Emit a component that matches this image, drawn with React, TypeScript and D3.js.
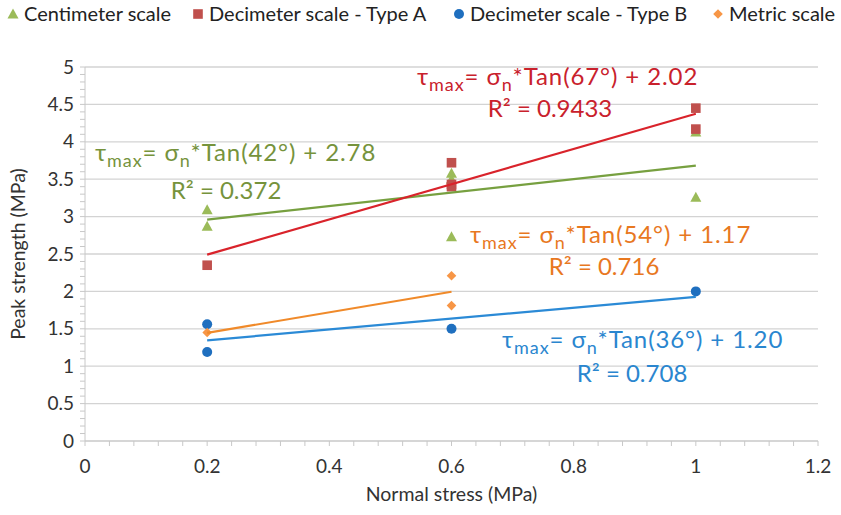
import React from 'react';
import * as d3 from 'd3';

// chart data
const seriesNames = ['Centimeter scale', 'Decimeter scale - Type A', 'Decimeter scale - Type B', 'Metric scale'];
const centimeterPts = [[0.2, 3.09], [0.2, 2.87], [0.6, 3.58], [0.6, 3.5], [0.6, 2.73], [1, 4.13], [1, 3.26]];
const typeAPts = [[0.2, 2.35], [0.6, 3.72], [0.6, 3.43], [0.6, 3.4], [1, 4.45], [1, 4.17]];
const typeBPts = [[0.2, 1.56], [0.2, 1.19], [0.6, 1.5], [1, 2.0]];
const metricPts = [[0.2, 1.45], [0.6, 2.21], [0.6, 1.81]];
// trend lines: angle (deg), intercept, x-range, R²
const trendAngles = [42, 67, 36, 54];
const trendIntercepts = [2.78, 2.02, 1.2, 1.17];
const trendRanges = [[0.2, 1], [0.2, 1], [0.2, 1], [0.2, 0.6]];
const trendR2 = ['0.372', '0.9433', '0.708', '0.716'];
const xTicks = [0, 0.2, 0.4, 0.6, 0.8, 1, 1.2];
const yTicks = [0, 0.5, 1, 1.5, 2, 2.5, 3, 3.5, 4, 4.5, 5];

const markerColors = ['#9bbb59', '#c0504d', '#1f6fbf', '#f79646'];
const lineColors = ['#77a040', '#d9232b', '#2b8ad6', '#f08a2a'];
const textColors = ['#76933c', '#c9212c', '#2a86cf', '#e8781f'];

const font = 'Lato, "Open Sans", sans-serif';

const W = 841, H = 515;
const margin = { left: 85, right: 23, top: 67, bottom: 74 };

const x = d3.scaleLinear().domain([0, 1.2]).range([margin.left, W - margin.right]);
const y = d3.scaleLinear().domain([0, 5]).range([H - margin.bottom, margin.top]);

const Marker = ({ kind, cx, cy, color }: { kind: number; cx: number; cy: number; color: string }) => {
  if (kind === 0) {
    return <path d={`M${cx},${cy - 5.5}L${cx + 5.5},${cy + 4.5}L${cx - 5.5},${cy + 4.5}Z`} fill={color} />;
  }
  if (kind === 1) return <rect x={cx - 4.8} y={cy - 4.8} width={9.6} height={9.6} fill={color} />;
  if (kind === 2) return <circle cx={cx} cy={cy} r={5} fill={color} />;
  return <path d={`M${cx},${cy - 4.8}L${cx + 4.8},${cy}L${cx},${cy + 4.8}L${cx - 4.8},${cy}Z`} fill={color} />;
};

// equation label with subscripts
const Equation = ({ i, ex, ey, rx, ry }: { i: number; ex: number; ey: number; rx: number; ry: number }) => (
  <g fill={textColors[i]} fontFamily={font} fontSize={24}>
    <text x={ex} y={ey} letterSpacing={0.9}>
      τ<tspan fontSize={18} dy={6}>max</tspan>
      <tspan dy={-6}>= σ</tspan>
      <tspan fontSize={18} dy={6}>n</tspan>
      <tspan dy={-6}>{`*Tan(${trendAngles[i]}°) + ${trendIntercepts[i].toFixed(2)}`}</tspan>
    </text>
    <text x={rx} y={ry} textAnchor="middle">
      R² = {trendR2[i]}
    </text>
  </g>
);

export default function App() {
  const allPts = [centimeterPts, typeAPts, typeBPts, metricPts];
  const xMinor = d3.range(0, 1.2001, 0.04);
  const yMinor = d3.range(0, 5.0001, 0.1);
  const legendX = [13, 198, 459, 718];

  return (
    <svg width={W} height={H} style={{ display: 'block', position: 'absolute', left: 0, top: 0 }}>
      <rect width={W} height={H} fill="#fff" />

      {/* legend */}
      {seriesNames.map((name, i) => (
        <g key={name}>
          <Marker kind={i} cx={legendX[i]} cy={14} color={markerColors[i]} />
          <text x={legendX[i] + 11} y={21} fontFamily={font} fontSize={20} fill="#222">
            {name}
          </text>
        </g>
      ))}

      {/* gridlines */}
      {yTicks.filter(t => t > 0).map(t => (
        <line key={t} x1={x(0)} x2={x(1.2)} y1={y(t)} y2={y(t)} stroke="#d3d3d3" strokeWidth={1.3} />
      ))}

      {/* axes */}
      <line x1={x(0)} x2={x(0)} y1={y(0)} y2={y(5)} stroke="#c8c8c8" />
      <line x1={x(0)} x2={x(1.2)} y1={y(0)} y2={y(0)} stroke="#c8c8c8" strokeWidth={1.3} />
      {yMinor.map(t => (
        <line key={t} x1={x(0) - 5} x2={x(0)} y1={y(t)} y2={y(t)} stroke="#c8c8c8" />
      ))}
      {xMinor.map(t => (
        <line key={t} x1={x(t)} x2={x(t)} y1={y(0)} y2={y(0) + 5} stroke="#c8c8c8" />
      ))}
      {yTicks.map(t => (
        <text key={t} x={x(0) - 11} y={y(t) + 6.5} textAnchor="end" fontFamily={font} fontSize={19} fill="#333">
          {t}
        </text>
      ))}
      {xTicks.map(t => (
        <text key={t} x={x(t)} y={y(0) + 32} textAnchor="middle" fontFamily={font} fontSize={19} fill="#333">
          {t}
        </text>
      ))}
      <text x={(x(0) + x(1.2)) / 2} y={501} textAnchor="middle" fontFamily={font} fontSize={19.5} fill="#333">
        Normal stress (MPa)
      </text>
      <text
        transform={`translate(25, ${(y(0) + y(5)) / 2}) rotate(-90)`}
        textAnchor="middle"
        fontFamily={font}
        fontSize={19.5}
        fill="#333"
      >
        Peak strength (MPa)
      </text>

      {/* points */}
      {allPts.map((pts, i) =>
        pts.map((p, j) => <Marker key={`${i}-${j}`} kind={i} cx={x(p[0])} cy={y(p[1])} color={markerColors[i]} />)
      )}

      {/* trend lines */}
      {trendAngles.map((a, i) => {
        const slope = Math.tan((a * Math.PI) / 180);
        const [x0, x1] = trendRanges[i];
        return (
          <line
            key={a}
            x1={x(x0)}
            x2={x(x1)}
            y1={y(slope * x0 + trendIntercepts[i])}
            y2={y(slope * x1 + trendIntercepts[i])}
            stroke={lineColors[i]}
            strokeWidth={2.2}
          />
        );
      })}

      {/* equations */}
      <Equation i={1} ex={417} ey={85} rx={550} ry={117} />
      <Equation i={0} ex={95} ey={161} rx={226} ry={199} />
      <Equation i={3} ex={470} ey={243} rx={604} ry={275} />
      <Equation i={2} ex={502} ey={348} rx={632} ry={382} />
    </svg>
  );
}
